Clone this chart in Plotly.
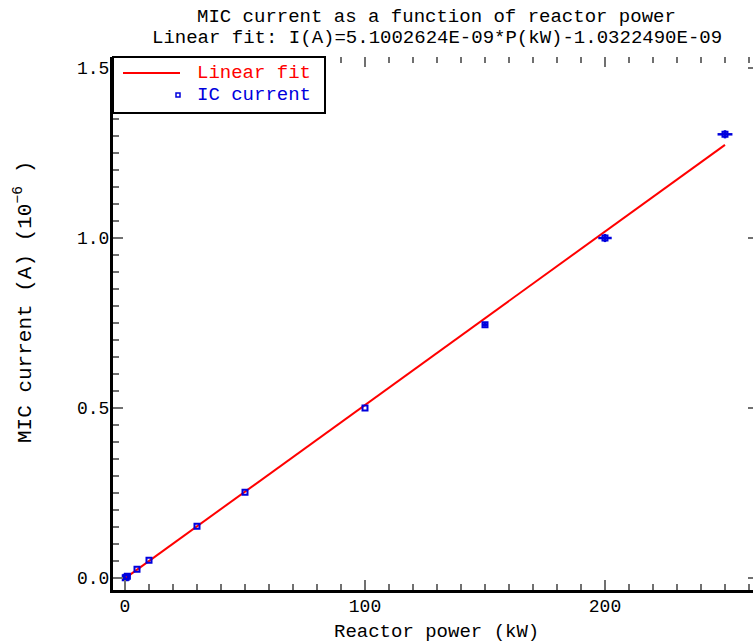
import plotly.graph_objects as go

# ---- data (current in units of 1e-6 A) ----
power_kw = [0.1, 0.5, 1.0, 5, 10, 30, 50, 100, 150, 200, 250]
current_ua = [0.0005, 0.0025, 0.005, 0.0255, 0.052, 0.152, 0.252, 0.50, 0.745, 1.00, 1.305]
power_err = [0, 0, 0, 0, 0, 0, 0, 0, 1.2, 2.8, 3.1]
current_err = [0, 0, 0, 0, 0, 0, 0, 0, 0.006, 0.012, 0.012]

# linear fit I(A) = slope*P(kW) + intercept, shown in 1e-6 A
fit_slope = 5.1002624e-09
fit_intercept = -1.0322490e-09
fit_power = [0, 250]
fit_current = [(fit_slope * p + fit_intercept) * 1e6 for p in fit_power]

title_line1 = "MIC current as a function of reactor power"
title_line2 = "Linear fit: I(A)=5.1002624E-09*P(kW)-1.0322490E-09"
x_title = "Reactor power (kW)"
y_title = "MIC current (A) (10<sup>\u22126</sup> )"
legend_names = ["Linear fit", "IC current"]

FONT = "Liberation Mono"
BLUE = "#0000dd"
RED = "#ff0000"

# plot-area geometry in pixels (figure is 753 x 644)
L, R, T, B = 113, 753, 57, 590
W, H = R - L, B - T


def px(xp):
    return (xp - L) / W


def py(yp):
    return (B - yp) / H


fig = go.Figure()
fig.add_trace(go.Scatter(
    x=fit_power, y=fit_current, mode="lines",
    line=dict(color=RED, width=2),
    name=legend_names[0], showlegend=False,
))
fig.add_trace(go.Scatter(
    x=power_kw, y=current_ua, mode="markers",
    marker=dict(symbol="square-open", size=5, color=BLUE, line=dict(width=2, color=BLUE)),
    error_x=dict(type="data", array=power_err, color=BLUE, thickness=2.5, width=0),
    error_y=dict(type="data", array=current_err, color=BLUE, thickness=2.5, width=0),
    name=legend_names[1], showlegend=False,
))
# invisible helper trace so the top / right tick-only axes are drawn
fig.add_trace(go.Scatter(
    x=fit_power, y=fit_current, xaxis="x2", yaxis="y2", mode="lines",
    line=dict(width=0), opacity=0, showlegend=False, hoverinfo="skip",
))

tick_color = "#707070"
xrange = [-5, 261.67]
yrange = [-0.0353, 1.5324]

# legend box drawn as shapes + text (IDL-style legend)
shapes = [
    dict(type="rect", xref="paper", yref="paper", layer="above",
         x0=px(113), x1=px(325), y0=py(113), y1=py(57),
         fillcolor="white", line=dict(color="black", width=2)),
    dict(type="line", xref="paper", yref="paper", layer="above",
         x0=px(123), x1=px(180), y0=py(73), y1=py(73),
         line=dict(color=RED, width=2)),
    dict(type="rect", xref="paper", yref="paper", layer="above",
         x0=px(176), x1=px(180), y0=py(97), y1=py(93),
         fillcolor="white", line=dict(color=BLUE, width=1.5)),
]

annotations = [
    dict(text=title_line1, xref="paper", yref="paper", x=px(436.5), y=py(17),
         xanchor="center", yanchor="middle", showarrow=False,
         font=dict(family=FONT, size=19)),
    dict(text=title_line2, xref="paper", yref="paper", x=px(436.5), y=py(38),
         xanchor="center", yanchor="middle", showarrow=False,
         font=dict(family=FONT, size=19)),
    dict(text=x_title, xref="paper", yref="paper", x=px(436), y=py(632),
         xanchor="center", yanchor="middle", showarrow=False,
         font=dict(family=FONT, size=19)),
    dict(text=y_title, xref="paper", yref="paper", x=px(23), y=py(302),
         xanchor="center", yanchor="middle", showarrow=False, textangle=-90,
         font=dict(family=FONT, size=21)),
    dict(text=legend_names[0], xref="paper", yref="paper", x=px(195), y=py(73),
         xanchor="left", yanchor="middle", showarrow=False,
         font=dict(family=FONT, size=19, color=RED)),
    dict(text=legend_names[1], xref="paper", yref="paper", x=px(195), y=py(95),
         xanchor="left", yanchor="middle", showarrow=False,
         font=dict(family=FONT, size=19, color=BLUE)),
]

fig.update_layout(
    width=753, height=644,
    margin=dict(l=L, r=753 - R, t=T, b=644 - B),
    paper_bgcolor="white", plot_bgcolor="white",
    font=dict(family=FONT, size=18, color="black"),
    showlegend=False,
    xaxis=dict(
        range=xrange, showgrid=False, zeroline=False,
        showline=True, linecolor="black", linewidth=3,
        ticks="inside", ticklen=10, tickwidth=2, tickcolor=tick_color,
        dtick=100, tick0=0, ticklabelstandoff=-3,
        minor=dict(dtick=10, ticks="inside", ticklen=6, tickwidth=2, tickcolor=tick_color),
        tickfont=dict(family=FONT, size=18),
    ),
    xaxis2=dict(
        range=xrange, overlaying="x", side="top", anchor="y",
        showgrid=False, zeroline=False, showline=False, showticklabels=False,
        ticks="inside", ticklen=10, tickwidth=2, tickcolor=tick_color,
        dtick=100, tick0=0,
        minor=dict(dtick=10, ticks="inside", ticklen=6, tickwidth=2, tickcolor=tick_color),
    ),
    yaxis=dict(
        range=yrange, showgrid=False, zeroline=False,
        showline=True, linecolor="black", linewidth=3,
        ticks="inside", ticklen=10, tickwidth=2, tickcolor=tick_color,
        dtick=0.5, tick0=0, tickformat=".1f", ticklabelstandoff=-3,
        minor=dict(dtick=0.05, ticks="inside", ticklen=6, tickwidth=2, tickcolor=tick_color),
        tickfont=dict(family=FONT, size=18),
    ),
    yaxis2=dict(
        range=yrange, overlaying="y", side="right", anchor="x",
        showgrid=False, zeroline=False, showline=False, showticklabels=False,
        ticks="inside", ticklen=5, tickwidth=2, tickcolor=tick_color,
        dtick=0.5, tick0=0,
    ),
    shapes=shapes,
    annotations=annotations,
)

fig.write_html("out.html", config={"displayModeBar": False},
               post_script="document.body.style.margin='0px';")
